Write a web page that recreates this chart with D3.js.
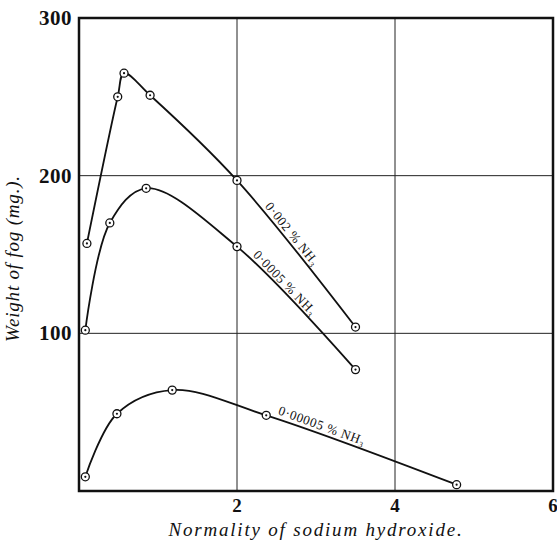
<!DOCTYPE html>
<html>
<head>
<meta charset="utf-8">
<script src="https://cdn.jsdelivr.net/npm/d3@7"></script>
<style>
  body { margin: 0; background: #fff; }
  text { font-family: "Liberation Serif", "DejaVu Serif", serif; fill: #111; }
</style>
</head>
<body>
<div id="chart"></div>
<script>
// data
const xTicks = [2, 4, 6];
const yTicks = [100, 200, 300];
const gridX = [2, 4];
const gridY = [100, 200];

const normality002 = [0.1, 0.49, 0.57, 0.9, 2.0, 3.5];
const fog002 = [157, 250, 265, 251, 197, 104];

const normality0005 = [0.08, 0.39, 0.85, 2.0, 3.5];
const fog0005 = [102, 170, 192, 155, 77];

const normality00005 = [0.08, 0.48, 1.18, 2.37, 4.78];
const fog00005 = [9, 49, 64, 48, 4];

const seriesLabels = ["0·002 % NH₃", "0·0005 % NH₃", "0·00005 % NH₃"];

const W = 557, H = 541;
const margin = {top: 18, right: 4, bottom: 50, left: 79};

const svg = d3.select('#chart').append('svg')
  .attr('width', W)
  .attr('height', H);

const x = d3.scaleLinear().domain([0, 6]).range([margin.left, W - margin.right]);
const y = d3.scaleLinear().domain([0, 300]).range([H - margin.bottom, margin.top]);

// grid
svg.append('g').selectAll('line.gx')
  .data(gridX).join('line')
  .attr('x1', d => x(d)).attr('x2', d => x(d))
  .attr('y1', y(300)).attr('y2', y(0))
  .attr('stroke', '#222').attr('stroke-width', 1);
svg.append('g').selectAll('line.gy')
  .data(gridY).join('line')
  .attr('x1', x(0)).attr('x2', x(6))
  .attr('y1', d => y(d)).attr('y2', d => y(d))
  .attr('stroke', '#222').attr('stroke-width', 1);

// frame
svg.append('rect')
  .attr('x', x(0)).attr('y', y(300))
  .attr('width', x(6) - x(0)).attr('height', y(0) - y(300))
  .attr('fill', 'none').attr('stroke', '#111').attr('stroke-width', 2.5);

// tick labels
svg.append('g').selectAll('text')
  .data(yTicks).join('text')
  .attr('x', x(0) - 7).attr('y', d => y(d) + 7)
  .attr('text-anchor', 'end')
  .attr('font-size', 21).attr('font-weight', 'bold')
  .attr('letter-spacing', 0.5)
  .text(d => d);
svg.append('g').selectAll('text')
  .data(xTicks).join('text')
  .attr('x', d => x(d)).attr('y', y(0) + 21)
  .attr('text-anchor', 'middle')
  .attr('font-size', 19).attr('font-weight', 'bold')
  .text(d => d);

// axis titles
svg.append('text')
  .attr('transform', `translate(19, ${(y(0) + y(300)) / 2 + 4}) rotate(-90)`)
  .attr('text-anchor', 'middle')
  .attr('font-size', 19).attr('font-style', 'italic')
  .attr('letter-spacing', 0.8)
  .text('Weight of fog (mg.).');
svg.append('text')
  .attr('x', 316).attr('y', 536)
  .attr('text-anchor', 'middle')
  .attr('font-size', 19).attr('font-style', 'italic')
  .attr('letter-spacing', 1.8)
  .text('Normality of sodium hydroxide.');

const line = d3.line()
  .x(d => x(d[0])).y(d => y(d[1]))
  .curve(d3.curveCatmullRom.alpha(0.5));

const series = [
  d3.zip(normality002, fog002),
  d3.zip(normality0005, fog0005),
  d3.zip(normality00005, fog00005)
];

series.forEach(pts => {
  svg.append('path')
    .datum(pts)
    .attr('fill', 'none')
    .attr('stroke', '#111')
    .attr('stroke-width', 1.8)
    .attr('d', line);
  const g = svg.append('g');
  g.selectAll('circle.o').data(pts).join('circle')
    .attr('cx', d => x(d[0])).attr('cy', d => y(d[1]))
    .attr('r', 4).attr('fill', '#fff')
    .attr('stroke', '#111').attr('stroke-width', 1.3);
  g.selectAll('circle.c').data(pts).join('circle')
    .attr('cx', d => x(d[0])).attr('cy', d => y(d[1]))
    .attr('r', 1.1).attr('fill', '#111');
});

// curve labels, rotated along each falling segment
const labelAt = [
  {s: 0, i: 4, t: 0.2, off: 5},
  {s: 1, i: 3, t: 0.1, off: 5},
  {s: 2, i: 3, t: 0.05, off: 5}
];
labelAt.forEach((l, k) => {
  const a = series[l.s][l.i], b = series[l.s][l.i + 1];
  const x1 = x(a[0]), y1 = y(a[1]), x2 = x(b[0]), y2 = y(b[1]);
  const ang = Math.atan2(y2 - y1, x2 - x1) * 180 / Math.PI;
  const px = x1 + (x2 - x1) * l.t, py = y1 + (y2 - y1) * l.t;
  svg.append('text')
    .attr('transform', `translate(${px},${py}) rotate(${ang}) translate(0,${-l.off})`)
    .attr('font-size', 13)
    .attr('letter-spacing', 0.6)
    .text(seriesLabels[k]);
});
</script>
</body>
</html>
